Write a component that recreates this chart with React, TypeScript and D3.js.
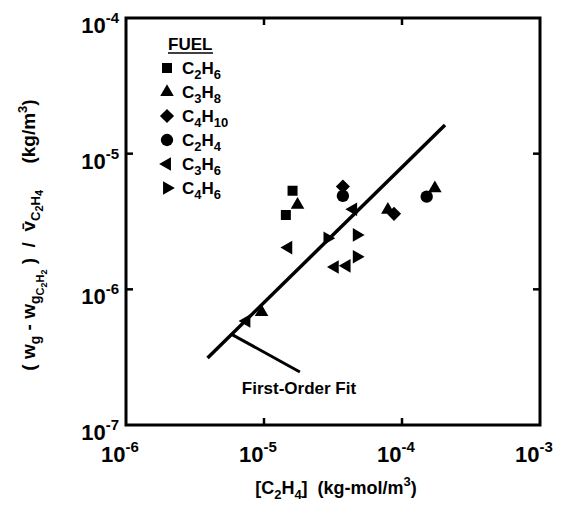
import React from 'react';
import * as d3 from 'd3';

const fuels = ['C2H6', 'C3H8', 'C4H10', 'C2H4', 'C3H6', 'C4H6'];
const fuelSubs: [string, string][] = [['2', '6'], ['3', '8'], ['4', '10'], ['2', '4'], ['3', '6'], ['4', '6']];

const c2h6X = [1.61e-5, 1.44e-5];
const c2h6Y = [5.33e-6, 3.53e-6];
const c3h8X = [1.75e-5, 1.73e-4, 9.6e-6, 7.9e-5];
const c3h8Y = [4.19e-6, 5.56e-6, 6.8e-7, 3.85e-6];
const c4h10X = [3.73e-5, 8.75e-5];
const c4h10Y = [5.73e-6, 3.6e-6];
const c2h4X = [3.73e-5, 1.51e-4];
const c2h4Y = [4.88e-6, 4.82e-6];
const c3h6X = [4.43e-5, 1.5e-5, 3.26e-5, 3.97e-5, 7.46e-6];
const c3h6Y = [3.89e-6, 2.03e-6, 1.46e-6, 1.49e-6, 5.85e-7];
const c4h6X = [4.7e-5, 2.88e-5, 4.7e-5];
const c4h6Y = [2.52e-6, 2.38e-6, 1.74e-6];

const fitX = [3.9e-6, 2.05e-4];
const fitY = [3.12e-7, 1.63e-5];
const leaderX = [5.83e-6, 1.82e-5];
const leaderY = [4.66e-7, 2.46e-7];

const xTicks = [1e-6, 1e-5, 1e-4, 1e-3];
const xTickExp = ['-6', '-5', '-4', '-3'];
const yTicks = [1e-7, 1e-6, 1e-5, 1e-4];
const yTickExp = ['-7', '-6', '-5', '-4'];

const seriesX = [c2h6X, c3h8X, c4h10X, c2h4X, c3h6X, c4h6X];
const seriesY = [c2h6Y, c3h8Y, c4h10Y, c2h4Y, c3h6Y, c4h6Y];

const W = 569, H = 508;
const L = 126, R = 540, T = 18, B = 425;
const FONT = "'Liberation Sans', Arial, Helvetica, sans-serif";

const sq = d3.symbol().type(d3.symbolSquare).size(100)()!;
const tri = d3.symbol().type(d3.symbolTriangle).size(80)()!;
const circ = d3.symbol().type(d3.symbolCircle).size(120)()!;

function Marker({ kind, x, y }: { kind: number; x: number; y: number }) {
  let d = sq;
  let rot = 0;
  if (kind === 0) { d = sq; }
  else if (kind === 1) { d = tri; }
  else if (kind === 2) { d = sq; rot = 45; }
  else if (kind === 3) { d = circ; }
  else if (kind === 4) { d = tri; rot = -90; }
  else if (kind === 5) { d = tri; rot = 90; }
  return <path d={d} transform={`translate(${x},${y}) rotate(${rot})`} fill="#000" />;
}

export default function App() {
  const x = d3.scaleLog().domain([1e-6, 1e-3]).range([L, R]);
  const y = d3.scaleLog().domain([1e-7, 1e-4]).range([B, T]);
  const line = d3.line<number>().x((_, i) => x(fitX[i])).y((_, i) => y(fitY[i]));

  return (
    <svg width={W} height={H} style={{ position: 'absolute', left: 0, top: 0, background: '#fff' }} fontFamily={FONT}>
      <rect x={0} y={0} width={W} height={H} fill="#fff" />
      {/* ticks */}
      {xTicks.slice(1, 3).map((t, i) => (
        <g key={'xt' + i} stroke="#000" strokeWidth={2.5}>
          <line x1={x(t)} x2={x(t)} y1={B} y2={B - 7} />
          <line x1={x(t)} x2={x(t)} y1={T} y2={T + 7} />
        </g>
      ))}
      {yTicks.slice(1, 3).map((t, i) => (
        <g key={'yt' + i} stroke="#000" strokeWidth={2.5}>
          <line x1={L} x2={L + 7} y1={y(t)} y2={y(t)} />
          <line x1={R} x2={R - 7} y1={y(t)} y2={y(t)} />
        </g>
      ))}
      <rect x={L} y={T} width={R - L} height={B - T} fill="none" stroke="#000" strokeWidth={3} />

      {/* tick labels */}
      {xTicks.map((t, i) => (
        <text key={'xl' + i} x={x(t) - 6} y={462} textAnchor="middle" fontSize={22} fontWeight="bold">
          10<tspan dy={-10} fontSize={15}>{xTickExp[i]}</tspan>
        </text>
      ))}
      {yTicks.map((t, i) => (
        <text key={'yl' + i} x={119} y={y(t) + 15} textAnchor="end" fontSize={22} fontWeight="bold">
          10<tspan dy={-10} fontSize={15}>{yTickExp[i]}</tspan>
        </text>
      ))}

      {/* fit line */}
      <path d={line(fitX)!} stroke="#000" strokeWidth={3.5} fill="none" />
      <line x1={x(leaderX[0])} y1={y(leaderY[0])} x2={x(leaderX[1])} y2={y(leaderY[1])} stroke="#000" strokeWidth={3} />
      <text x={299} y={394} textAnchor="middle" fontSize={17} fontWeight="bold">First-Order Fit</text>

      {/* data */}
      {seriesX.map((xs, s) => xs.map((xv, j) => (
        <Marker key={s + '-' + j} kind={s} x={x(xv)} y={y(seriesY[s][j])} />
      )))}

      {/* legend */}
      <text x={168} y={50} fontSize={17} fontWeight="bold">FUEL</text>
      <line x1={168} x2={213} y1={53} y2={53} stroke="#000" strokeWidth={1.5} />
      {fuels.map((f, i) => (
        <g key={f}>
          <Marker kind={i} x={167} y={68 + i * 24} />
          <text x={182} y={74 + i * 24} fontSize={17} fontWeight="bold">
            C<tspan dy={5} fontSize={13}>{fuelSubs[i][0]}</tspan>
            <tspan dy={-5}>H</tspan>
            <tspan dy={5} fontSize={13}>{fuelSubs[i][1]}</tspan>
          </text>
        </g>
      ))}

      {/* x-axis title */}
      <text x={336} y={494} textAnchor="middle" fontSize={18} fontWeight="bold" style={{ whiteSpace: 'pre' }}>
        [C<tspan dy={5} fontSize={13}>2</tspan><tspan dy={-5}>H</tspan><tspan dy={5} fontSize={13}>4</tspan><tspan dy={-5}>{']  (kg-mol/m'}</tspan><tspan dy={-8} fontSize={13}>3</tspan><tspan dy={8}>)</tspan>
      </text>

      {/* y-axis title */}
      <g transform="translate(35,235) rotate(-90)">
        <text x={0} y={0} textAnchor="middle" fontSize={19} fontWeight="bold" style={{ whiteSpace: 'pre' }}>
          {'( w'}<tspan dy={5} fontSize={14}>g</tspan><tspan dy={-5}>{' - w'}</tspan><tspan dy={5} fontSize={14}>g</tspan><tspan dy={4} fontSize={11}>C</tspan><tspan dy={3} fontSize={9}>2</tspan><tspan dy={-3} fontSize={11}>H</tspan><tspan dy={3} fontSize={9}>2</tspan><tspan dy={-12}>{' )  /  v\u0304'}</tspan><tspan dy={5} fontSize={13}>C</tspan><tspan dy={3} fontSize={11}>2</tspan><tspan dy={-3} fontSize={13}>H</tspan><tspan dy={3} fontSize={11}>4</tspan><tspan dy={-8}>{'     (kg/m'}</tspan><tspan dy={-8} fontSize={13}>3</tspan><tspan dy={8}>)</tspan>
        </text>
      </g>
    </svg>
  );
}
